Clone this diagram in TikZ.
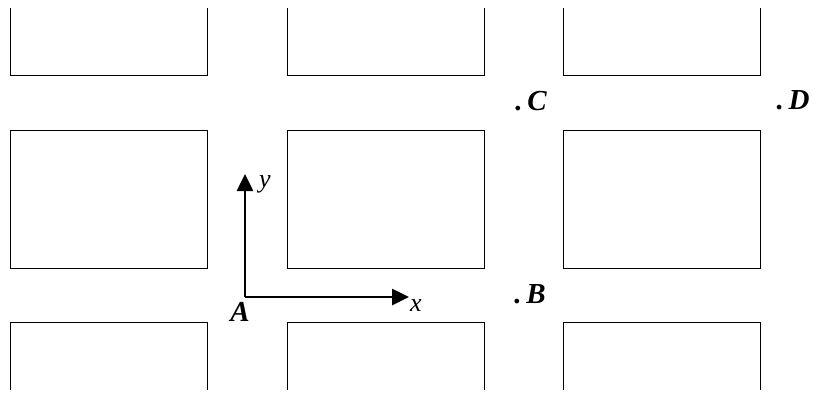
\documentclass[tikz,border=0pt]{standalone}
\usetikzlibrary{arrows.meta}
\usepackage{fontspec}
\setmainfont{Liberation Serif}
\begin{document}
\begin{tikzpicture}[x=1pt,y=-1pt,
  box/.style={draw=black,line width=1pt},
  ax/.style={line width=2.6pt,arrows={-Triangle[length=17pt,width=16pt]}},
  lab/.style={font=\fontsize{29}{29}\selectfont\bfseries\itshape,inner sep=0pt},
  axl/.style={font=\fontsize{26}{26}\selectfont\itshape,inner sep=0pt}]
\useasboundingbox (0,0) rectangle (818,400);
\foreach \x in {10,287,563}{
  \draw[box] (\x,8) -- (\x,75) -- (\x+197,75) -- (\x+197,8);
  \draw[box] (\x,130) rectangle (\x+197,268);
  \draw[box] (\x,390) -- (\x,322) -- (\x+197,322) -- (\x+197,390);
}
\coordinate (O) at (245,297);
\coordinate (X) at (409,297);
\coordinate (Y) at (245,174);
\draw[ax] (O) -- (X);
\draw[ax] (O) -- (Y);
\node[lab] (A) at (240,312) {A};
\node[axl] (xl) at (416,306) {x};
\node[axl] (yl) at (265,184) {y};
\node[lab] (B) at (530,294) {.\,B};
\node[lab] (C) at (531,101) {.\,C};
\node[lab] (D) at (793,100) {.\,D};
\end{tikzpicture}
\end{document}
